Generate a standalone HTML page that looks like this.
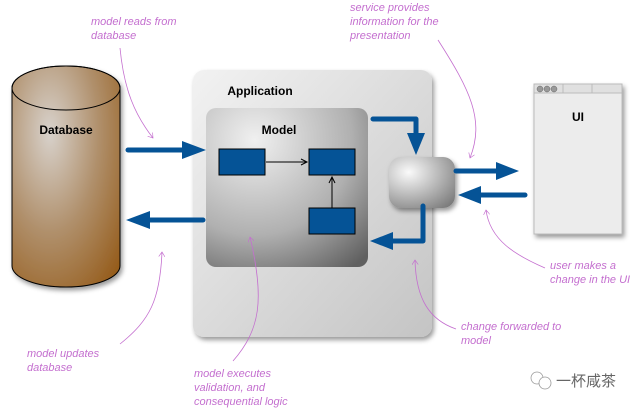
<!DOCTYPE html>
<html><head><meta charset="utf-8"><style>
html,body{margin:0;padding:0;background:#fff;width:637px;height:408px;overflow:hidden}
text{font-family:"Liberation Sans","Noto Sans CJK SC",sans-serif}
.n{fill:#c46fcf;font-size:11px;font-style:italic}
.b{font-weight:bold;font-size:12px;fill:#000}
</style></head><body>
<svg width="637" height="408" viewBox="0 0 637 408" xmlns="http://www.w3.org/2000/svg">
<defs>
<radialGradient id="db" cx="0.35" cy="0.3" r="0.9"><stop offset="0" stop-color="#d8d2cc"/><stop offset="0.5" stop-color="#b0906c"/><stop offset="1" stop-color="#945a18"/></radialGradient>
<linearGradient id="app" x1="0" y1="0" x2="1" y2="1"><stop offset="0" stop-color="#f2f2f2"/><stop offset="1" stop-color="#c4c4c4"/></linearGradient>
<radialGradient id="mod" cx="0.3" cy="0.2" r="1"><stop offset="0" stop-color="#f0f0f0"/><stop offset="0.6" stop-color="#b0b0b0"/><stop offset="1" stop-color="#606060"/></radialGradient>
<radialGradient id="svc" cx="0.3" cy="0.3" r="0.9"><stop offset="0" stop-color="#fafafa"/><stop offset="1" stop-color="#7a7a7a"/></radialGradient>
<filter id="sh" x="-20%" y="-20%" width="140%" height="140%"><feDropShadow dx="2" dy="3" stdDeviation="2.5" flood-opacity="0.4"/></filter>
<marker id="pa" markerWidth="8" markerHeight="8" refX="6" refY="4" orient="auto"><path d="M0,0 L6,4 L0,8" fill="none" stroke="#c46fcf" stroke-width="0.8"/></marker>
</defs>
<!-- database -->
<g filter="url(#sh)">
<path d="M12,88 L12,266 A54,21 0 0 0 120,266 L120,88 A54,22 0 0 0 12,88 Z" fill="url(#db)" stroke="#000" stroke-width="1"/>
</g>
<ellipse cx="66" cy="88" rx="54" ry="22" fill="none" stroke="#000" stroke-width="1"/>
<text x="66" y="134" class="b" text-anchor="middle">Database</text>
<!-- application -->
<rect x="193" y="70" width="239" height="267" rx="11" fill="url(#app)" filter="url(#sh)"/>
<text x="260" y="95" class="b" text-anchor="middle">Application</text>
<rect x="206" y="108" width="162" height="159" rx="10" fill="url(#mod)"/>
<text x="279" y="134" class="b" text-anchor="middle">Model</text>
<rect x="219" y="149" width="46" height="26" fill="#055396" stroke="#000"/>
<rect x="309" y="149" width="46" height="26" fill="#055396" stroke="#000"/>
<rect x="309" y="208" width="46" height="26" fill="#055396" stroke="#000"/>
<line x1="266" y1="162" x2="307" y2="162" stroke="#000"/>
<path d="M301,159 L307,162 L301,165" fill="none" stroke="#000"/>
<line x1="332" y1="208" x2="332" y2="177" stroke="#000"/>
<path d="M329,183 L332,177 L335,183" fill="none" stroke="#000"/>
<!-- service -->
<rect x="389" y="157" width="66" height="51" rx="12" fill="url(#svc)" filter="url(#sh)"/>
<!-- UI -->
<g filter="url(#sh)"><rect x="534" y="84" width="88" height="150" fill="#ececec" stroke="#bbb"/></g>
<rect x="534" y="84" width="88" height="9" fill="#e0e0e0" stroke="#bbb"/>
<line x1="563" y1="84" x2="563" y2="93" stroke="#bbb"/><line x1="592" y1="84" x2="592" y2="93" stroke="#bbb"/>
<circle cx="540" cy="89" r="3" fill="#999" stroke="#666" stroke-width="0.5"/>
<circle cx="547" cy="89" r="3" fill="#999" stroke="#666" stroke-width="0.5"/>
<circle cx="554" cy="89" r="3" fill="#999" stroke="#666" stroke-width="0.5"/>
<text x="578" y="121" class="b" text-anchor="middle">UI</text>
<!-- blue arrows -->
<g fill="#055396" stroke="#055396">
<path d="M128,150 L184,150" stroke-width="5" stroke-linecap="round" fill="none"/>
<path d="M182,141 L206,150 L182,159 Z" stroke="none"/>
<path d="M203,220 L148,220" stroke-width="5" stroke-linecap="round" fill="none"/>
<path d="M150,211 L126,220 L150,229 Z" stroke="none"/>
<path d="M373,119 L416,119 L416,137" stroke-width="5" stroke-linecap="round" stroke-linejoin="round" fill="none"/>
<path d="M407,133 L416,155 L425,133 Z" stroke="none"/>
<path d="M423,206 L423,241 L392,241" stroke-width="5" stroke-linecap="round" stroke-linejoin="round" fill="none"/>
<path d="M393,232 L370,241 L393,250 Z" stroke="none"/>
<path d="M456,171 L498,171" stroke-width="5" stroke-linecap="round" fill="none"/>
<path d="M496,162 L519,171 L496,180 Z" stroke="none"/>
<path d="M525,195 L480,195" stroke-width="5" stroke-linecap="round" fill="none"/>
<path d="M481,186 L458,195 L481,204 Z" stroke="none"/>
</g>
<!-- notes -->
<g fill="none" stroke="#c46fcf" stroke-width="0.8">
<path d="M120,48 C124,90 135,115 153,138" marker-end="url(#pa)"/>
<path d="M438,40 C470,90 485,120 470,158" marker-end="url(#pa)"/>
<path d="M545,268 C515,255 490,240 486,210" marker-end="url(#pa)"/>
<path d="M456,329 C430,320 416,300 415,260" marker-end="url(#pa)"/>
<path d="M233,361 C260,330 265,300 250,237" marker-end="url(#pa)"/>
<path d="M120,344 C150,320 160,300 162,252" marker-end="url(#pa)"/>
</g>
<text class="n"><tspan x="91" y="25">model reads from</tspan><tspan x="91" y="39">database</tspan></text>
<text class="n"><tspan x="350" y="11">service provides</tspan><tspan x="350" y="25">information for the</tspan><tspan x="350" y="39">presentation</tspan></text>
<text class="n"><tspan x="550" y="269">user makes a</tspan><tspan x="550" y="283">change in the UI</tspan></text>
<text class="n"><tspan x="461" y="330">change forwarded to</tspan><tspan x="461" y="344">model</tspan></text>
<text class="n"><tspan x="194" y="377">model executes</tspan><tspan x="194" y="391">validation, and</tspan><tspan x="194" y="405">consequential logic</tspan></text>
<text class="n"><tspan x="27" y="357">model updates</tspan><tspan x="27" y="371">database</tspan></text>
<!-- watermark -->
<circle cx="537" cy="378" r="6" fill="none" stroke="#999" stroke-width="0.8"/>
<circle cx="545" cy="383" r="6" fill="#fff" stroke="#999" stroke-width="0.8"/>
<text x="556" y="386" font-size="15" fill="#666">一杯咸茶</text>
</svg>
</body></html>
